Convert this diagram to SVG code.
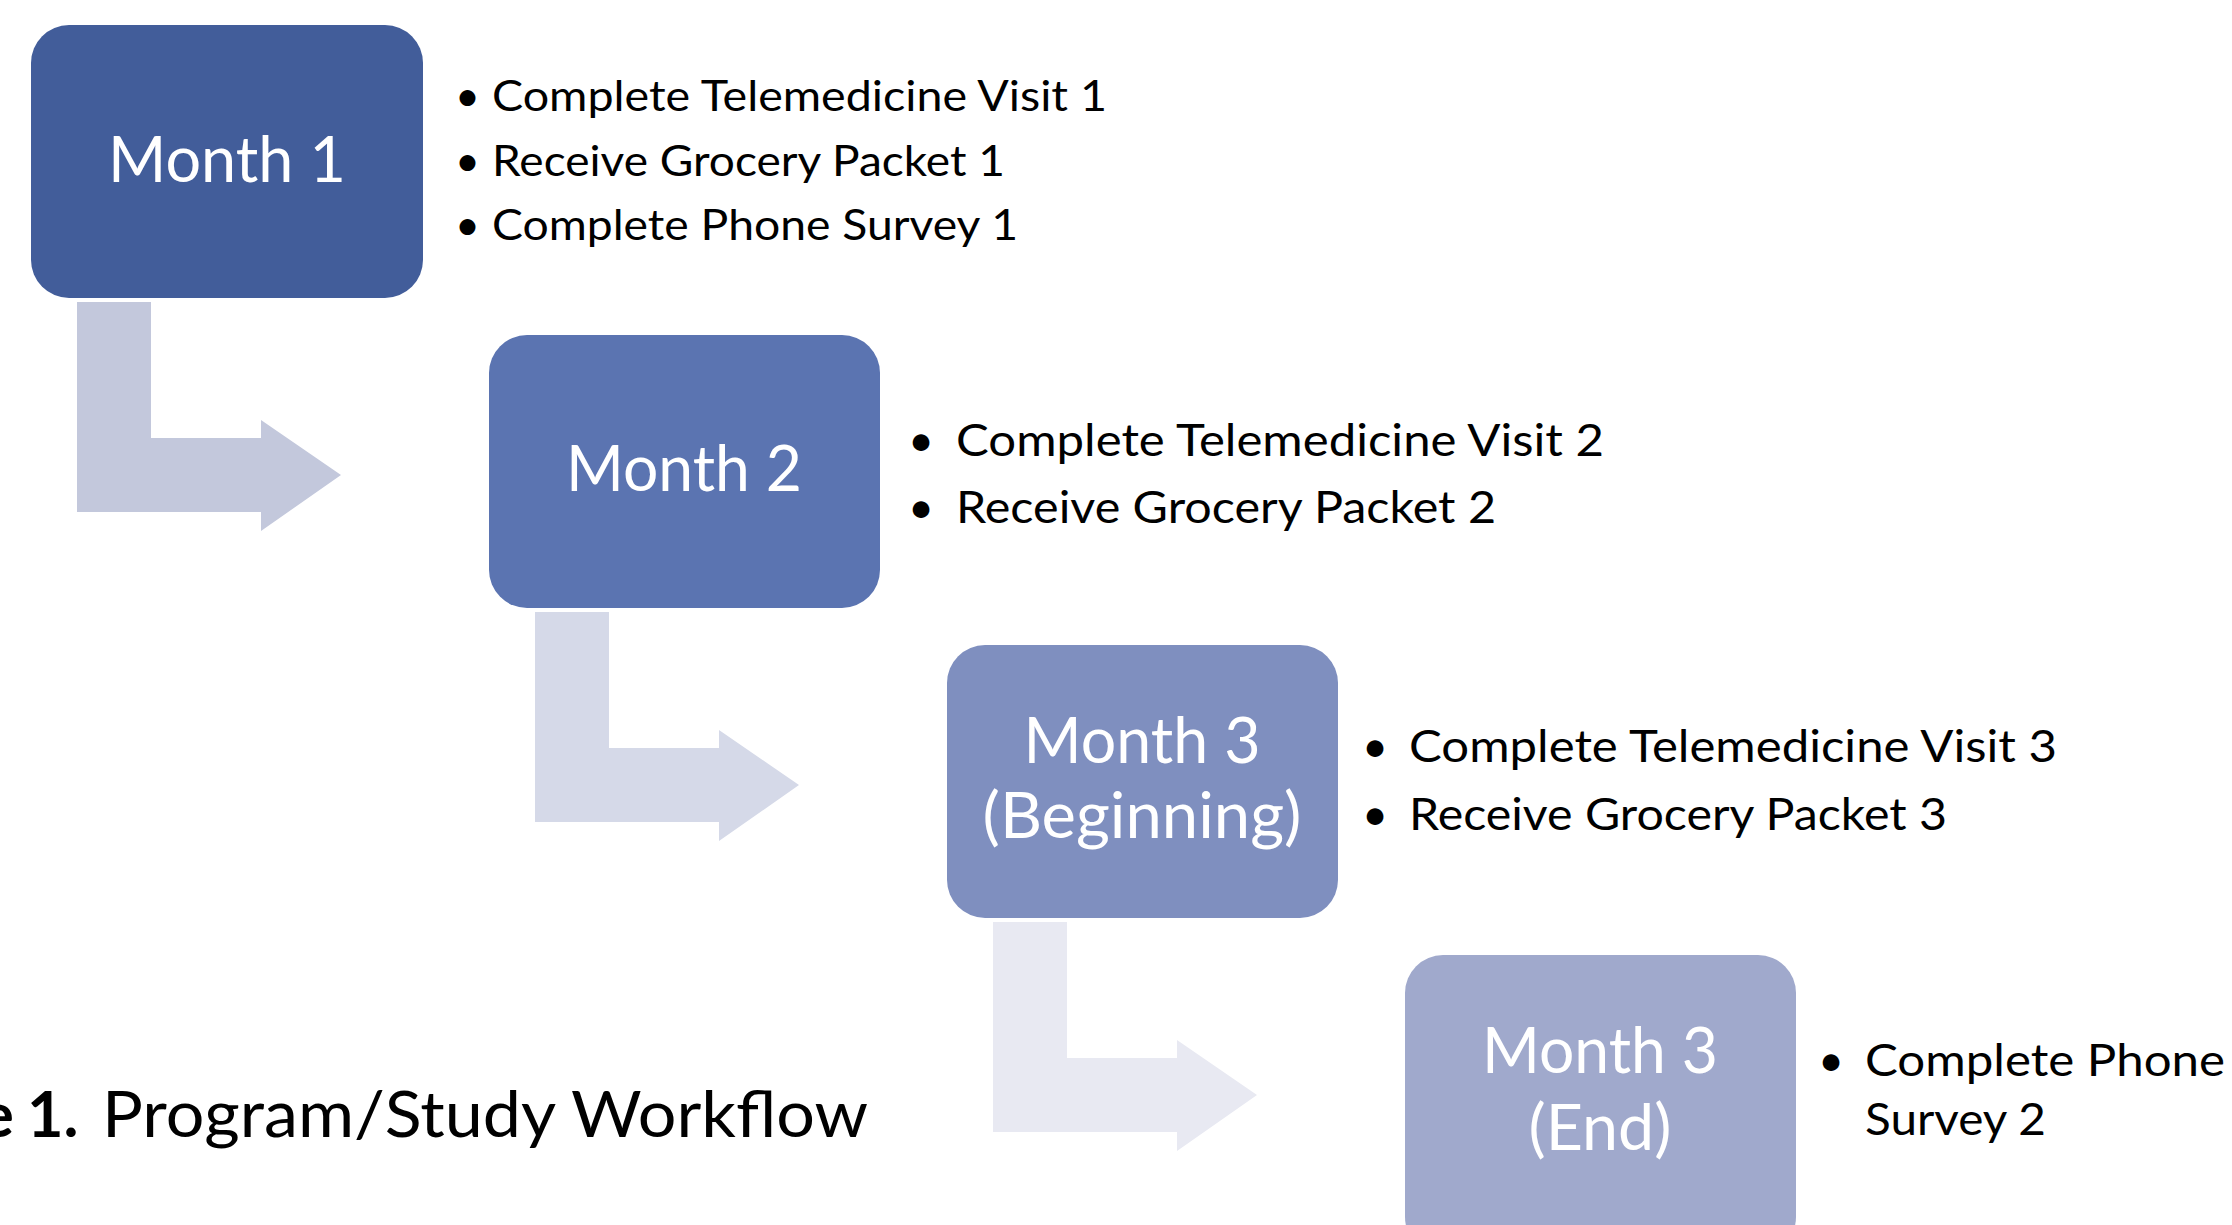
<svg xmlns="http://www.w3.org/2000/svg" width="2232" height="1225" viewBox="0 0 2232 1225">
<style>
.lbl{font-family:Lato,"Open Sans",sans-serif;font-size:63px;fill:#ffffff;text-anchor:middle}
.bt{font-family:Lato,"Open Sans",sans-serif;fill:#000000}
.b1{font-size:43px}
.b2{font-size:45px}
.cap{font-family:Lato,"Open Sans",sans-serif;font-size:63px;fill:#000000}
</style>
<rect width="2232" height="1225" fill="#ffffff"/>
<g id="connectors">
<polygon points="77,302 151,302 151,438 261,438 261,420 341,475 261,531 261,512 77,512" fill="#C3C8DC"/>
<polygon points="535,612 609,612 609,748 719,748 719,730 799,785 719,841 719,822 535,822" fill="#D5D9E8"/>
<polygon points="993,922 1067,922 1067,1058 1177,1058 1177,1040 1257,1095 1177,1151 1177,1132 993,1132" fill="#E8E9F2"/>
</g>
<g id="month1">
<rect x="31" y="25" width="392" height="273" rx="38" ry="38" fill="#425D9A"/>
<text class="lbl" x="227" y="182" textLength="238" lengthAdjust="spacingAndGlyphs">Month 1</text>
</g>
<g id="month1-items" class="bt b1">
<text x="455" y="111">•</text><text x="492" y="111" textLength="615" lengthAdjust="spacingAndGlyphs">Complete Telemedicine Visit 1</text>
<text x="455" y="176">•</text><text x="492" y="176" textLength="513" lengthAdjust="spacingAndGlyphs">Receive Grocery Packet 1</text>
<text x="455" y="240">•</text><text x="492" y="240" textLength="526" lengthAdjust="spacingAndGlyphs">Complete Phone Survey 1</text>
</g>
<g id="month2">
<rect x="489" y="335" width="391" height="273" rx="38" ry="38" fill="#5B74B1"/>
<text class="lbl" x="684" y="491" textLength="236" lengthAdjust="spacingAndGlyphs">Month 2</text>
</g>
<g id="month2-items" class="bt b2">
<text x="908" y="456">•</text><text x="956" y="456" textLength="648" lengthAdjust="spacingAndGlyphs">Complete Telemedicine Visit 2</text>
<text x="908" y="523">•</text><text x="956" y="523" textLength="540" lengthAdjust="spacingAndGlyphs">Receive Grocery Packet 2</text>
</g>
<g id="month3b">
<rect x="947" y="645" width="391" height="273" rx="38" ry="38" fill="#7F8FBF"/>
<text class="lbl" x="1142" y="763" textLength="237" lengthAdjust="spacingAndGlyphs">Month 3</text>
<text class="lbl" x="1142" y="838" textLength="319" lengthAdjust="spacingAndGlyphs">(Beginning)</text>
</g>
<g id="month3b-items" class="bt b2">
<text x="1362" y="762">•</text><text x="1409" y="762" textLength="648" lengthAdjust="spacingAndGlyphs">Complete Telemedicine Visit 3</text>
<text x="1362" y="830">•</text><text x="1409" y="830" textLength="538" lengthAdjust="spacingAndGlyphs">Receive Grocery Packet 3</text>
</g>
<g id="month3e">
<rect x="1405" y="955" width="391" height="300" rx="38" ry="38" fill="#A0A9CC"/>
<text class="lbl" x="1600" y="1073" textLength="236" lengthAdjust="spacingAndGlyphs">Month 3</text>
<text class="lbl" x="1600" y="1150" textLength="143" lengthAdjust="spacingAndGlyphs">(End)</text>
</g>
<g id="month3e-items" class="bt b2">
<text x="1818" y="1076">•</text><text x="1865" y="1076" textLength="360" lengthAdjust="spacingAndGlyphs">Complete Phone</text>
<text x="1865" y="1135" textLength="181" lengthAdjust="spacingAndGlyphs">Survey 2</text>
</g>
<g id="caption" class="cap">
<text x="14" y="1137" text-anchor="end" font-weight="bold">e</text>
<text x="27" y="1137" font-weight="bold">1.</text>
<text x="102" y="1137" textLength="766" lengthAdjust="spacingAndGlyphs">Program/Study Workflow</text>
</g>
</svg>
